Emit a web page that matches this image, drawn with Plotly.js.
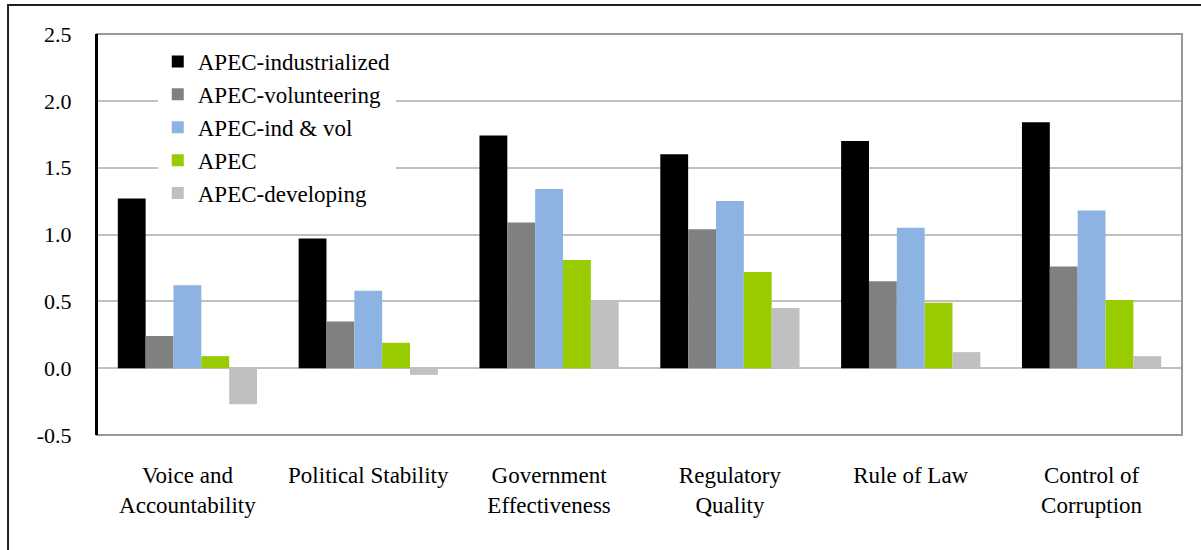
<!DOCTYPE html>
<html>
<head>
<meta charset="utf-8">
<script src="https://cdn.plot.ly/plotly-3.0.1.min.js"></script>
<style>
  html, body { margin: 0; padding: 0; background: #ffffff; }
  #chart { width: 1201px; height: 550px; }
</style>
</head>
<body>
<div id="chart"></div>
<script>
const categories = [
  "Voice and<br>Accountability",
  "Political Stability",
  "Government<br>Effectiveness",
  "Regulatory<br>Quality",
  "Rule of Law",
  "Control of<br>Corruption"
];
const seriesNames = ["APEC-industrialized", "APEC-volunteering", "APEC-ind & vol", "APEC", "APEC-developing"];
const industrialized = [1.27, 0.97, 1.74, 1.60, 1.70, 1.84];
const volunteering   = [0.24, 0.35, 1.09, 1.04, 0.65, 0.76];
const indVol         = [0.62, 0.58, 1.34, 1.25, 1.05, 1.18];
const apec           = [0.09, 0.19, 0.81, 0.72, 0.49, 0.51];
const developing     = [-0.27, -0.05, 0.50, 0.45, 0.12, 0.09];
const yTickVals  = [-0.5, 0.0, 0.5, 1.0, 1.5, 2.0, 2.5];
const yTickText  = ["-0.5", "0.0", "0.5", "1.0", "1.5", "2.0", "2.5"];

const colors = ["#000000", "#808080", "#8db3e2", "#99cc00", "#c0c0c0"];
const values = [industrialized, volunteering, indVol, apec, developing];

const FONT = "'Liberation Serif', 'Times New Roman', serif";

const traces = values.map((v, i) => ({
  type: "bar",
  name: seriesNames[i],
  x: categories,
  y: v,
  marker: { color: colors[i], line: { width: 0 } },
  hoverinfo: "x+y+name"
}));

const layout = {
  width: 1201,
  height: 550,
  margin: { l: 97, r: 19, t: 34, b: 115 },
  paper_bgcolor: "#ffffff",
  plot_bgcolor: "#ffffff",
  font: { family: FONT, size: 22, color: "#000000" },
  barmode: "group",
  bargap: 0.23,
  bargroupgap: 0,
  showlegend: true,
  legend: {
    x: 0.056, y: 0.985, xanchor: "left", yanchor: "top",
    bgcolor: "#ffffff",
    borderwidth: 0,
    font: { family: FONT, size: 23, color: "#000000" },
    traceorder: "normal"
  },
  xaxis: {
    type: "category",
    showgrid: false,
    zeroline: false,
    showline: false,
    ticks: "",
    ticklabelstandoff: 24,
    tickfont: { family: FONT, size: 23, color: "#000000" },
    automargin: false
  },
  yaxis: {
    range: [-0.5, 2.5],
    tickvals: yTickVals,
    ticktext: yTickText,
    showgrid: true,
    gridcolor: "#c0c0c0",
    gridwidth: 2,
    zeroline: true,
    zerolinecolor: "#c0c0c0",
    zerolinewidth: 2,
    showline: true,
    linecolor: "#000000",
    linewidth: 2,
    ticks: "",
    ticklabelstandoff: 19,
    tickfont: { family: FONT, size: 22, color: "#000000" },
    automargin: false
  },
  shapes: [
    {
      type: "rect", xref: "paper", yref: "paper",
      x0: 0, x1: 1, y0: 0, y1: 1,
      line: { color: "#999999", width: 2 }, layer: "above"
    },
    {
      type: "line", xref: "paper", yref: "paper",
      x0: 0, x1: 0, y0: 0, y1: 1,
      line: { color: "#000000", width: 2 }, layer: "above"
    },
    {
      type: "rect", xref: "paper", yref: "paper",
      x0: -0.082, x1: 1.03, y0: -0.33, y1: 1.0723,
      line: { color: "#202020", width: 2 }, layer: "above"
    }
  ]
};

Plotly.newPlot("chart", traces, layout, { displayModeBar: false, staticPlot: true });
</script>
</body>
</html>
